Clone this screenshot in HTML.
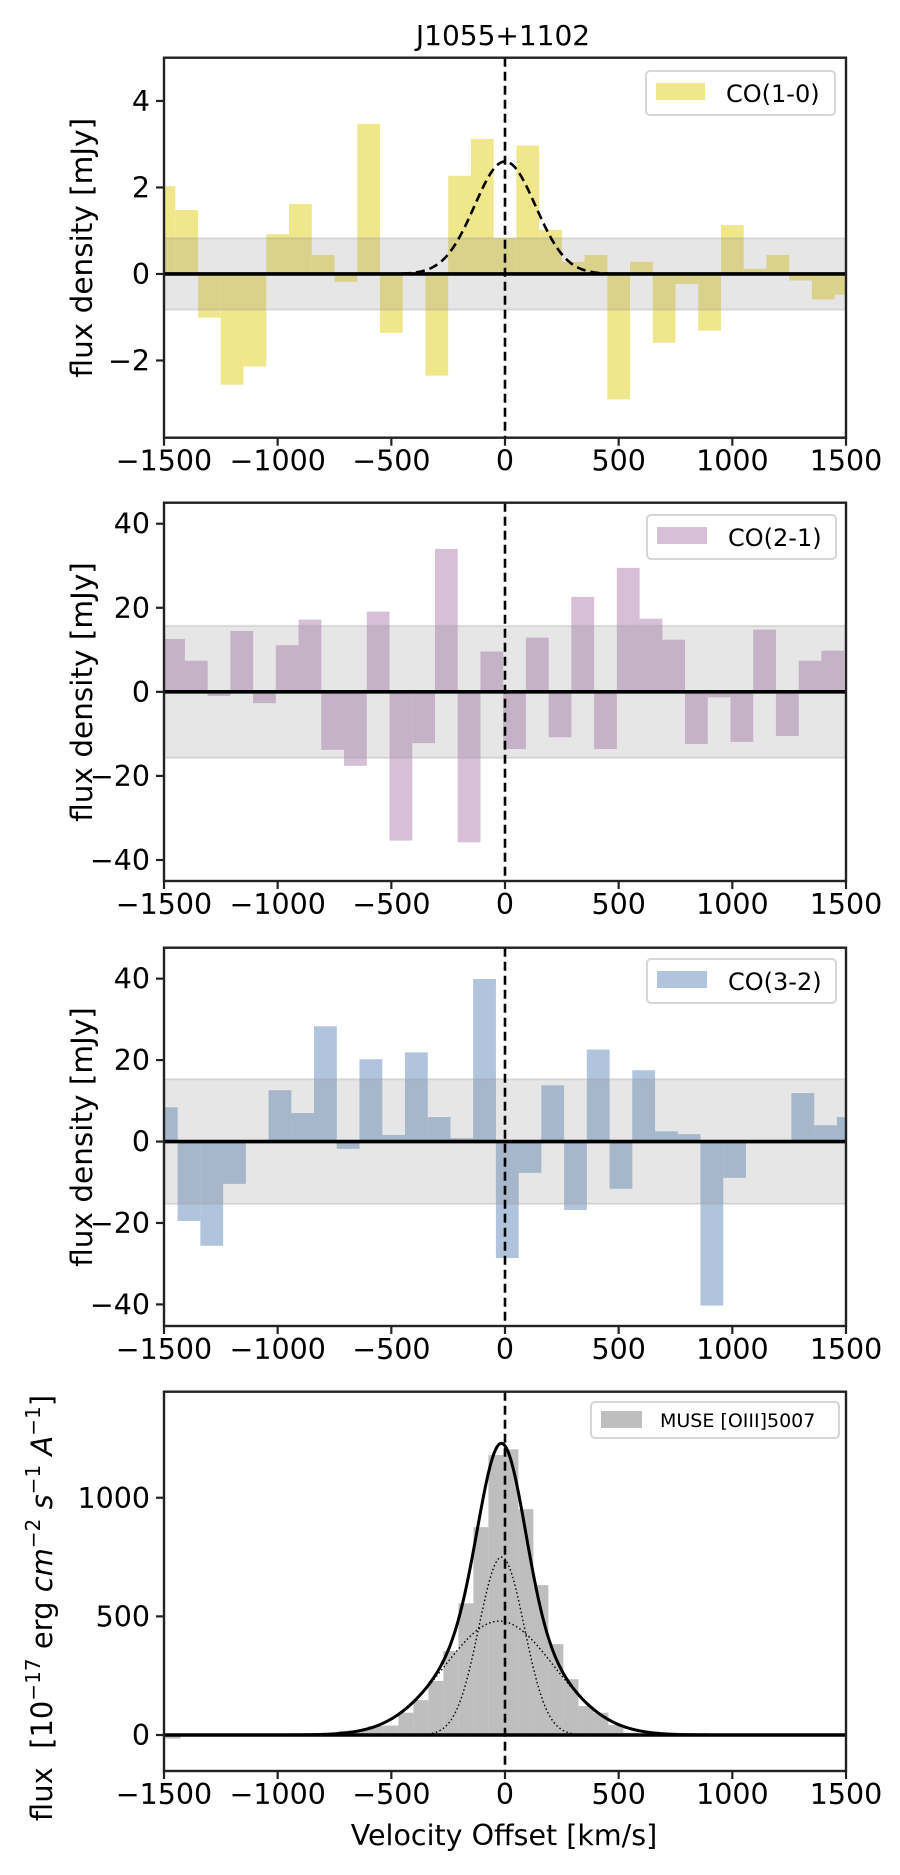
<!DOCTYPE html>
<html><head><meta charset="utf-8"><style>
html,body{margin:0;padding:0;background:#fff;}
svg{display:block;font-family:"DejaVu Sans","Liberation Sans",sans-serif;}
</style></head><body>
<svg id="fig" width="900" height="1875" viewBox="0 0 900 1875" xmlns="http://www.w3.org/2000/svg">
<text x="503" y="45" font-size="28" text-anchor="middle">J1055+1102</text>
<text x="504" y="1845" font-size="28.5" text-anchor="middle">Velocity Offset [km/s]</text>
</svg>
<script>
// ---- data ----
const xTicks = [-1500, -1000, -500, 0, 500, 1000, 1500];
const co10Vel = [-1500,-1400,-1300,-1200,-1100,-1000,-900,-800,-700,-600,-500,-400,-300,-200,-100,0,100,200,300,400,500,600,700,800,900,1000,1100,1200,1300,1400,1500];
const co10Flux = [2.03,1.48,-1.01,-2.56,-2.14,0.92,1.62,0.44,-0.18,3.47,-1.36,0.0,-2.35,2.27,3.12,0.83,2.97,1.02,0.28,0.44,-2.9,0.28,-1.59,-0.23,-1.31,1.13,0.12,0.44,-0.15,-0.59,-0.48];
const co10Ticks = [-2, 0, 2, 4];
const co10Fit = [2.6, 0, 134]; // amplitude, centre, sigma
const co21Vel = [-1458,-1358,-1258,-1158,-1058,-958,-858,-758,-658,-558,-458,-358,-258,-158,-58,42,142,242,342,442,542,642,742,842,942,1042,1142,1242,1342,1442];
const co21Flux = [12.6,7.4,-1.0,14.5,-2.7,11.1,17.2,-13.8,-17.6,19.1,-35.4,-12.2,34.0,-35.8,9.6,-13.6,12.9,-10.8,22.6,-13.6,29.5,17.4,12.4,-12.4,-1.3,-11.9,14.8,-10.5,7.4,9.8];
const co21Ticks = [-40, -20, 0, 20, 40];
const co32Vel = [-1490,-1390,-1290,-1190,-1090,-990,-890,-790,-690,-590,-490,-390,-290,-190,-90,10,110,210,310,410,510,610,710,810,910,1010,1110,1210,1310,1410,1510];
const co32Flux = [8.4,-19.5,-25.6,-10.4,0,12.6,7.0,28.3,-1.8,20.2,1.6,21.9,6.0,0.8,39.9,-28.6,-7.7,13.8,-16.8,22.6,-11.6,17.5,2.5,1.8,-40.3,-8.9,0,0,11.9,4.0,6.0];
const co32Ticks = [-40, -20, 0, 20, 40];
const museVel = [-1460,-766,-700,-634,-568,-502,-436,-370,-304,-238,-172,-106,-40,26,92,158,224,290,356,422,488,554,620,1228];
const museFlux = [-15,8,18,18,38,40,94,147,228,354,555,876,1180,1204,952,632,383,235,122,94,42,10,5,-5];
const museTicks = [0, 500, 1000];
const museNarrow = [750, -15, 100];
const museBroad = [480, -25, 240];

const svg = document.getElementById('fig');
const NS = 'http://www.w3.org/2000/svg';
const X0 = 164, X1 = 846;
function el(tag, attrs, parent) {
  const e = document.createElementNS(NS, tag);
  for (const k in attrs) e.setAttribute(k, attrs[k]);
  (parent || svg).appendChild(e);
  return e;
}
function xs(v) { return X0 + (v + 1500) / 3000 * (X1 - X0); }

function panel(o) {
  const g = el('g', {});
  
  
  const ys = v => o.top + (o.ymax - v) / (o.ymax - o.ymin) * (o.bot - o.top);
  const cid = 'clip-' + o.name;
  const cp = el('clipPath', { id: cid }, g);
  el('rect', { x: X0, y: o.top, width: X1 - X0, height: o.bot - o.top }, cp);
  const inner = el('g', { 'clip-path': 'url(#' + cid + ')' }, g);
  for (let i = 0; i < o.vel.length; i++) {
    const xa = xs(o.vel[i] - o.bw / 2), xb = xs(o.vel[i] + o.bw / 2);
    const y0 = ys(0), y1 = ys(o.vals[i]);
    const r = el('rect', { x: xa, y: Math.min(y0, y1), width: xb - xa, height: Math.abs(y1 - y0), fill: o.color }, inner);
    
    
  }
  if (o.band) {
    const b = el('rect', { x: X0, y: ys(o.band), width: X1 - X0, height: ys(-o.band) - ys(o.band), fill: '#808080', 'fill-opacity': 0.2, stroke: '#a0a0a0', 'stroke-opacity': 0.3, 'stroke-width': 2 }, inner);
    
    
  }
  (o.fits || []).forEach(f => {
    let d = '';
    for (let v = -1500; v <= 1500; v += 5) {
      let s = 0;
      f.comps.forEach(c => { s += c[0] * Math.exp(-Math.pow(v - c[1], 2) / (2 * c[2] * c[2])); });
      d += (d ? 'L' : 'M') + xs(v).toFixed(2) + ',' + ys(s).toFixed(2);
    }
    const p = el('path', { d: d, fill: 'none', stroke: '#000', 'stroke-width': f.w, 'stroke-dasharray': f.dash || 'none' }, inner);
    
    
  });
  const zl = el('line', { x1: X0, x2: X1, y1: ys(0), y2: ys(0), stroke: '#000', 'stroke-width': 3.6 }, inner);
  
  
  const vl = el('line', { x1: xs(0), x2: xs(0), y1: o.top, y2: o.bot, stroke: '#000', 'stroke-width': 2.6, 'stroke-dasharray': '9,5' }, inner);
  
  
  const fr = el('rect', { x: X0, y: o.top, width: X1 - X0, height: o.bot - o.top, fill: 'none', stroke: '#222', 'stroke-width': 2.4 }, g);
  
  
  xTicks.forEach(t => {
    el('line', { x1: xs(t), x2: xs(t), y1: o.bot, y2: o.bot + 8, stroke: '#222', 'stroke-width': 2.2 }, g);
    const tx = el('text', { x: xs(t), y: o.bot + 33, 'font-size': 28.5, 'text-anchor': 'middle' }, g);
    tx.textContent = (t < 0 ? '\u2212' + (-t) : '' + t);
    
    
  });
  o.ticks.forEach(t => {
    el('line', { x1: X0 - 8, x2: X0, y1: ys(t), y2: ys(t), stroke: '#222', 'stroke-width': 2.2 }, g);
    const tx = el('text', { x: X0 - 14, y: ys(t) + 10, 'font-size': 28.5, 'text-anchor': 'end' }, g);
    tx.textContent = (t < 0 ? '\u2212' + (-t) : '' + t);
    
    
  });
  const L = o.legend;
  const lg = el('g', {}, g);
  
  
  el('rect', { x: L.x, y: L.y, width: L.w, height: L.h, rx: 4, fill: '#fff', 'fill-opacity': 0.8, stroke: '#d6d6d6', 'stroke-width': 2 }, lg);
  el('rect', { x: L.x + 10, y: L.py, width: L.pw, height: 17, fill: o.color }, lg);
  const lt = el('text', { x: L.tx, y: L.ty, 'font-size': L.fs }, lg);
  lt.textContent = L.label;
  
  
  return g;
}

panel({ name: 'co10-panel', top: 57.7, bot: 437.7, ymin: -3.785, ymax: 5.0, vel: co10Vel, vals: co10Flux, bw: 100, color: '#f0e68c', band: 0.825, ticks: co10Ticks,
  fits: [{ name: 'co10-gaussian-fit', comps: [co10Fit], w: 2.6, dash: '9,5' }],
  legend: { x: 646, y: 71, w: 189, h: 44, py: 83, pw: 49, tx: 726, ty: 102, fs: 24, label: 'CO(1-0)' } });
panel({ name: 'co21-panel', top: 502.7, bot: 881, ymin: -45, ymax: 45, vel: co21Vel, vals: co21Flux, bw: 100.3, color: '#d8bfd8', band: 15.7, ticks: co21Ticks,
  legend: { x: 647, y: 515, w: 189, h: 44, py: 527, pw: 50, tx: 728, ty: 546, fs: 24, label: 'CO(2-1)' } });
panel({ name: 'co32-panel', top: 947.7, bot: 1326, ymin: -45.3, ymax: 47.6, vel: co32Vel, vals: co32Flux, bw: 100.3, color: '#b0c4de', band: 15.3, ticks: co32Ticks,
  legend: { x: 647, y: 959, w: 189, h: 44, py: 971, pw: 50, tx: 728, ty: 990, fs: 24, label: 'CO(3-2)' } });
panel({ name: 'muse-panel', top: 1391.7, bot: 1771, ymin: -151.7, ymax: 1447, vel: museVel, vals: museFlux, bw: 66, color: '#bebebe', ticks: museTicks,
  fits: [
    { name: 'narrow-component', comps: [museNarrow], w: 1.4, dash: '1.5,2.5' },
    { name: 'broad-component', comps: [museBroad], w: 1.4, dash: '1.5,2.5' },
    { name: 'total-fit', comps: [museNarrow, museBroad], w: 3 }],
  legend: { x: 591, y: 1402, w: 248, h: 36, py: 1411, pw: 41, tx: 660, ty: 1427, fs: 19, label: 'MUSE [OIII]5007' } });

[['co10', 247.7], ['co21', 692], ['co32', 1137]].forEach(p => {
  const t = el('text', { x: 0, y: 0, 'font-size': 29.5, 'text-anchor': 'middle', transform: 'translate(92,' + p[1] + ') rotate(-90)' });
  t.textContent = 'flux density [mJy]';
  
  
});
const yt = el('text', { x: 0, y: 0, 'font-size': 29, 'text-anchor': 'middle', transform: 'translate(52,1608) rotate(-90)' });


yt.innerHTML = 'flux\u00a0\u00a0[10<tspan dy="-12" font-size="20">\u221217</tspan><tspan dy="12"> erg </tspan><tspan font-style="italic">cm</tspan><tspan dy="-12" font-size="20">\u22122</tspan><tspan dy="12"> </tspan><tspan font-style="italic">s</tspan><tspan dy="-12" font-size="20">\u22121</tspan><tspan dy="12"> </tspan><tspan font-style="italic">A</tspan><tspan dy="-12" font-size="20">\u22121</tspan><tspan dy="12">]</tspan>';
</script>
</body></html>
